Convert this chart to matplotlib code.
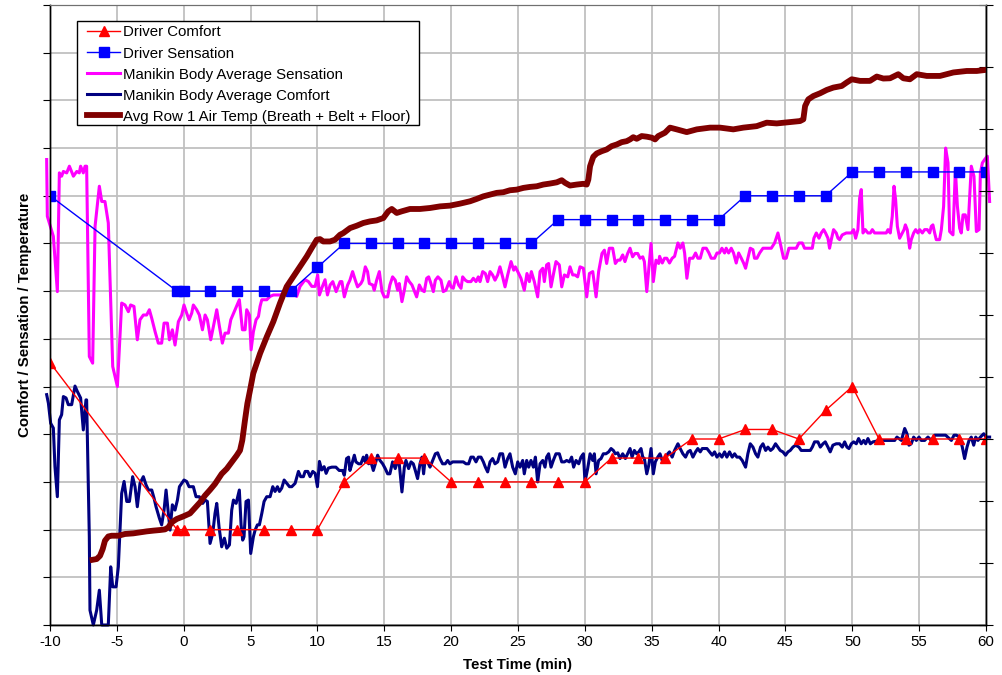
"""Driver / manikin comfort and sensation vs. cabin air temperature during warm-up test."""

import matplotlib
matplotlib.use("Agg")
import matplotlib.pyplot as plt
from matplotlib.patches import Rectangle

plt.rcParams['font.family'] = ['Liberation Sans', 'DejaVu Sans']
plt.rcParams['axes.unicode_minus'] = False

# ------------------------------
# Data (left axis in grid units, right axis in deg F)
# ------------------------------

jury_t = [-10, -0.5, 0, 2, 4, 6, 8, 10, 12, 14, 16, 18, 20, 22, 24, 26, 28, 30,
          32, 34, 36, 38, 40, 42, 44, 46, 48, 50, 52, 54, 56, 58, 60]

driver_comfort = [5.5, 2.0, 2.0, 2.0, 2.0, 2.0, 2.0, 2.0, 3.0, 3.5, 3.5, 3.5,
                  3.0, 3.0, 3.0, 3.0, 3.0, 3.0, 3.5, 3.5, 3.5, 3.9, 3.9, 4.1,
                  4.1, 3.9, 4.5, 5.0, 3.9, 3.9, 3.9, 3.9, 3.9]

driver_sensation = [9.0, 7.0, 7.0, 7.0, 7.0, 7.0, 7.0, 7.5, 8.0, 8.0, 8.0, 8.0,
                    8.0, 8.0, 8.0, 8.0, 8.5, 8.5, 8.5, 8.5, 8.5, 8.5, 8.5, 9.0,
                    9.0, 9.0, 9.0, 9.5, 9.5, 9.5, 9.5, 9.5, 9.5]

sens_t = [-10.25, -10.20, -9.75, -9.45, -9.30, -9.13, -9.00, -8.75, -8.55, -8.25,
          -8.00, -7.81, -7.71, -7.51, -7.38, -7.26, -7.06, -6.81, -6.63, -6.31,
          -6.13, -5.89, -5.64, -5.31, -4.96, -4.64, -4.39, -4.14, -3.97, -3.72,
          -3.47, -3.27, -3.02, -2.77, -2.57, -2.39, -2.14, -1.90, -1.65, -1.47,
          -1.22, -1.07, -0.85, -0.65, -0.40, -0.15, 0.02, 0.22, 0.40, 0.60,
          0.72, 0.97, 1.17, 1.40, 1.60, 1.77, 2.02, 2.27, 2.47, 2.67,
          2.89, 3.09, 3.34, 3.52, 3.84, 4.16, 4.39, 4.59, 4.71, 4.91,
          5.04, 5.21, 5.41, 5.59, 5.71, 5.84, 6.21, 6.46, 6.71, 7.21,
          7.58, 7.83, 8.20, 8.45, 8.70, 9.08, 9.33, 9.58, 9.83, 10.02,
          10.15, 10.32, 10.57, 10.75, 10.95, 11.15, 11.40, 11.70,
          11.83, 12.01, 12.26, 12.43, 12.63, 12.83, 13.00, 13.25, 13.38, 13.58,
          13.75, 13.88, 14.13, 14.25, 14.43, 14.63, 14.83, 15.00, 15.25, 15.42,
          15.62, 15.82, 16.00, 16.12, 16.32, 16.50, 16.67, 16.87, 17.07, 17.27,
          17.42, 17.62, 17.82, 17.99, 18.17, 18.32, 18.49, 18.67, 18.82, 19.01,
          19.24, 19.41, 19.61, 19.86, 19.99, 20.16, 20.36, 20.56, 20.74, 20.86,
          21.06, 21.23, 21.48, 21.66, 21.86, 22.03, 22.16, 22.36, 22.56, 22.73,
          22.91, 23.10, 23.28, 23.48, 23.65, 23.85, 24.03, 24.23, 24.48, 24.68,
          24.80, 24.98, 25.22, 25.47, 25.67, 25.85, 26.00, 26.22, 26.47, 26.65,
          26.85, 26.97, 27.14, 27.29, 27.47, 27.64, 27.84, 28.09, 28.27, 28.47,
          28.72, 28.89, 29.09, 29.26, 29.46, 29.64, 29.89, 30.14, 30.34, 30.59,
          30.84, 31.03, 31.28, 31.46, 31.63, 31.83, 32.08, 32.28, 32.46, 32.63,
          32.83, 33.00, 33.20, 33.38, 33.57, 33.75, 33.95, 34.13, 34.33, 34.45,
          34.63, 34.83, 34.95, 35.12, 35.32, 35.52,
          35.59, 35.79, 35.96, 36.13, 36.33, 36.53, 36.71, 36.96, 37.13, 37.33,
          37.46, 37.63, 37.83, 38.08, 38.28, 38.45, 38.63, 38.83, 39.08, 39.28,
          39.45, 39.70, 39.88, 40.07, 40.25, 40.45, 40.57, 40.75, 40.95, 41.12,
          41.32, 41.50, 41.70, 41.87, 42.02, 42.19, 42.37, 42.57, 42.69, 42.87,
          43.07, 43.32, 43.57, 43.94, 44.19, 44.44, 44.61, 44.86, 45.06, 45.26,
          45.51, 45.81, 46.01, 46.26, 46.43, 46.68, 47.01, 47.13, 47.31, 47.51,
          47.68, 47.86, 48.00, 48.18, 48.30, 48.43, 48.60, 48.80, 48.93, 49.05,
          49.25, 49.55, 49.93, 50.10, 50.25, 50.42, 50.55, 50.67, 50.80, 50.97,
          51.17, 51.35, 51.50, 51.67, 52.04, 52.54, 52.67, 52.84, 52.99, 53.12,
          53.24, 53.37, 53.54, 53.74, 53.87, 53.97, 54.11, 54.29, 54.41, 54.59,
          54.74, 54.91, 55.04, 55.24, 55.41, 55.61, 55.79, 55.91, 56.03, 56.16,
          56.28, 56.53, 56.66, 56.83, 56.98, 57.16, 57.28, 57.53, 57.71, 57.86,
          58.03, 58.15, 58.28, 58.45, 58.65, 58.90, 59.10, 59.28, 59.48, 59.58,
          59.73, 59.90, 60.10, 60.27]

manikin_sensation = [
    9.76, 8.57, 8.15, 6.99, 9.48, 9.41, 9.51, 9.48, 9.62, 9.41,
    9.51, 9.48, 9.62, 9.48, 9.62, 9.62, 5.63, 5.49, 8.36, 9.20,
    8.88, 8.88, 8.43, 5.42, 5.00, 6.75, 6.71, 6.57, 6.71, 6.68,
    5.98, 6.40, 6.50, 6.50, 6.61, 6.43, 6.15, 5.91, 5.91, 6.33,
    6.33, 5.98, 6.19, 5.87, 6.36, 6.50, 6.71, 6.54, 6.40, 6.54,
    6.71, 6.61, 6.50, 6.19, 6.50, 6.40, 5.98, 6.33, 6.61, 6.26,
    5.91, 6.12, 6.12, 6.40, 6.61, 6.82, 6.19, 6.19, 6.61, 6.50,
    5.77, 6.15, 6.40, 6.47, 6.68, 6.82, 6.82, 6.89, 6.92, 6.92,
    6.96, 7.06, 7.03, 6.89, 7.10, 7.24, 7.20, 7.10, 7.10, 7.34,
    6.92, 7.06, 7.24, 6.92, 7.13, 7.20, 6.99, 7.20,
    7.20, 6.88, 7.13, 7.23, 7.41, 7.23, 7.09, 7.16, 7.23, 7.51,
    7.41, 7.16, 7.13, 7.02, 7.23, 7.41, 6.99, 6.88, 6.88, 7.13,
    7.30, 7.23, 7.02, 7.16, 6.78, 7.02, 7.30, 7.20, 7.13, 6.99,
    6.88, 7.13, 7.02, 6.99, 7.27, 7.30, 7.16, 6.99, 7.23, 7.30,
    7.23, 6.99, 7.02, 7.20, 7.09, 7.06, 7.30, 7.13, 7.06, 7.30,
    7.23, 7.20, 7.20, 7.27, 7.20, 7.30, 7.20, 7.41, 7.37, 7.20,
    7.41, 7.34, 7.23, 7.34, 7.51, 7.30, 7.09, 7.34, 7.62, 7.44,
    7.51, 7.41, 7.27, 7.02, 7.37, 7.20, 7.41, 7.20, 6.88, 7.41,
    7.48, 7.20, 7.55, 7.58, 7.09, 7.34, 7.62, 7.55, 7.09, 7.34,
    7.30, 7.51, 7.34, 7.34, 7.30, 7.51, 7.48, 6.88, 7.37, 7.41,
    6.88, 7.41, 7.79, 7.86, 7.58, 7.90, 7.90, 7.58, 7.65, 7.65,
    7.76, 7.62, 7.79, 7.90, 7.72, 7.79, 7.79, 7.69, 7.72, 7.62,
    6.99, 7.62, 8.00, 7.20, 7.65, 7.58,
    7.73, 7.59, 7.69, 7.69, 7.59, 7.69, 7.73, 8.01, 7.90, 8.01,
    7.80, 7.27, 7.69, 7.69, 7.80, 7.69, 7.69, 7.90, 7.90, 7.80,
    7.69, 7.69, 7.80, 7.80, 7.90, 7.80, 7.90, 7.80, 7.90, 7.80,
    7.59, 7.80, 7.69, 7.59, 7.48, 7.69, 7.90, 7.87, 7.69, 7.69,
    7.80, 7.90, 7.90, 7.90, 8.01, 8.22, 8.01, 7.69, 7.69, 7.90,
    7.90, 7.90, 8.01, 8.01, 7.90, 7.90, 7.90, 8.11, 8.22, 8.11,
    8.22, 8.29, 8.22, 8.11, 7.90, 8.08, 8.29, 8.22, 8.11, 8.08,
    8.18, 8.22, 8.22, 8.29, 8.11, 8.29, 8.95, 9.13, 8.22, 8.29,
    8.22, 8.22, 8.29, 8.22, 8.22, 8.22, 8.29, 8.22, 8.57, 9.20,
    8.92, 8.36, 8.11, 8.22, 8.29, 8.39, 8.29, 7.90, 8.08, 8.22,
    8.29, 8.22, 8.29, 8.22, 8.29, 8.29, 8.22, 8.36, 8.39, 8.22,
    8.08, 8.08, 8.29, 8.78, 10.00, 9.69, 8.25, 8.18, 9.55, 8.78,
    8.32, 8.22, 8.60, 8.60, 8.29, 9.62, 9.41, 8.25, 8.29, 9.48,
    9.69, 9.76, 9.83, 8.88]

comf_t = [-10.25, -10.12, -9.95, -9.75, -9.63, -9.45, -9.30, -9.13, -9.00, -8.80,
          -8.63, -8.38, -8.13, -7.96, -7.71, -7.51, -7.31, -7.26, -7.06, -7.01,
          -6.76, -6.51, -6.31, -6.13, -5.89, -5.64, -5.46, -5.31, -5.06, -4.89,
          -4.64, -4.46, -4.26, -4.06, -3.82, -3.64, -3.47, -3.27, -3.02, -2.82,
          -2.64, -2.39, -2.22, -2.07, -1.82, -1.65, -1.47, -1.32, -1.15, -1.02,
          -0.85, -0.65, -0.47, -0.32, -0.15, 0.02, 0.22, 0.40, 0.72, 0.92,
          1.17, 1.42, 1.60, 1.77, 1.97, 2.17, 2.34, 2.47, 2.64, 2.84,
          3.04, 3.22, 3.42, 3.59, 3.72, 3.92, 4.04, 4.16, 4.29, 4.41,
          4.51, 4.66, 4.84, 5.01, 5.21, 5.34, 5.51, 5.66, 5.84, 6.01,
          6.21, 6.46, 6.66, 6.83, 7.01, 7.16, 7.33, 7.51, 7.71, 7.91,
          8.08, 8.33, 8.58, 8.75, 8.95, 9.08, 9.28, 9.45, 9.65, 9.83,
          10.00, 10.15, 10.32, 10.50, 10.65, 10.82,
          11.08, 11.38, 11.63, 11.88, 12.01, 12.18, 12.33, 12.43, 12.58, 12.76,
          12.88, 13.08, 13.25, 13.43, 13.58, 13.68, 13.83, 14.00, 14.18, 14.33,
          14.50, 14.68, 14.88, 15.07, 15.25, 15.42, 15.62, 15.82, 16.00, 16.12,
          16.32, 16.50, 16.62, 16.82, 17.00, 17.17, 17.32, 17.49, 17.67, 17.82,
          17.94, 18.07, 18.24, 18.42, 18.62, 18.82, 18.99, 19.16, 19.36, 19.56,
          19.74, 19.91, 20.11, 20.36, 20.66, 20.91, 21.11, 21.31, 21.48, 21.66,
          21.86, 22.03, 22.23, 22.41, 22.56, 22.73, 22.91, 23.10, 23.28, 23.48,
          23.65, 23.85, 24.03, 24.23, 24.40, 24.60, 24.80, 24.98, 25.15, 25.35,
          25.47, 25.65, 25.80, 25.97, 26.15, 26.30, 26.47, 26.65, 26.85, 27.02,
          27.14, 27.29, 27.47, 27.64, 27.84, 28.09, 28.27, 28.47, 28.64, 28.84,
          29.01, 29.16, 29.34, 29.54, 29.71, 29.89, 30.01, 30.21, 30.39, 30.59,
          30.71, 30.84, 31.03, 31.21, 31.38, 31.58, 31.78, 31.96, 32.13, 32.28,
          32.46, 32.63, 32.83, 33.03, 33.20, 33.38, 33.53, 33.70, 33.87, 34.03,
          34.20, 34.33, 34.45, 34.63, 34.78, 34.95, 35.12, 35.27, 35.45, 35.62,
          35.82, 36.02, 36.20,
          36.33, 36.53, 36.71, 36.96, 37.13, 37.33, 37.53, 37.71, 37.88, 38.08,
          38.28, 38.45, 38.63, 38.78, 38.95, 39.13, 39.33, 39.53, 39.70, 39.88,
          40.07, 40.25, 40.45, 40.62, 40.82, 41.02, 41.20, 41.37, 41.57, 41.77,
          42.02, 42.19, 42.37, 42.57, 42.77, 42.94, 43.14, 43.32, 43.52, 43.69,
          43.89, 44.06, 44.26, 44.44, 44.61, 44.81, 45.01, 45.19, 45.36, 45.56,
          45.76, 46.01, 46.18, 46.56, 46.86, 47.01, 47.18, 47.43, 47.61, 47.81,
          47.98, 48.18, 48.35, 48.55, 48.80, 49.05, 49.25, 49.43, 49.60, 49.75,
          49.93, 50.10, 50.30, 50.47, 50.67, 50.85, 51.00, 51.17, 51.35, 51.55,
          52.04, 52.54, 52.92, 53.17, 53.34, 53.67, 53.92, 54.09, 54.24, 54.41,
          54.59, 54.79, 54.99, 55.16, 55.41, 55.66, 55.91, 56.16, 56.53, 56.98,
          57.41, 57.61, 57.78, 58.03, 58.23, 58.40, 58.58, 58.73, 58.90, 59.08,
          59.23, 59.40, 59.58, 59.83, 60.02, 60.27]

manikin_comfort = [
    4.83, 4.65, 4.23, 4.13, 3.32, 2.69, 4.30, 4.41, 4.79, 4.76,
    4.62, 4.62, 5.01, 4.90, 4.76, 4.09, 4.72, 4.72, 1.85, 0.31,
    0.00, 0.31, 0.73, 0.00, 0.00, 0.00, 1.22, 0.80, 0.80, 1.22,
    2.76, 3.01, 2.59, 2.59, 3.11, 2.90, 2.48, 2.97, 3.11, 2.94,
    2.83, 2.83, 2.66, 2.48, 2.24, 2.10, 2.41, 2.83, 2.34, 1.99,
    2.52, 2.41, 2.62, 2.90, 2.97, 3.04, 3.01, 2.90, 2.90, 2.69,
    2.69, 2.55, 2.62, 2.59, 1.71, 1.92, 2.34, 2.55, 2.06, 1.64,
    1.82, 1.61, 1.68, 2.41, 2.62, 2.55, 2.69, 2.83, 2.10, 1.78,
    1.85, 2.59, 2.62, 1.50, 1.85, 1.99, 2.10, 2.10, 2.34, 2.59,
    2.69, 2.69, 2.90, 2.80, 2.90, 2.80, 2.87, 3.04, 2.97, 2.90,
    2.90, 2.97, 3.22, 3.11, 3.11, 3.22, 3.22, 3.11, 3.22, 3.18,
    2.90, 3.43, 3.25, 3.32, 3.18, 3.29,
    3.31, 3.31, 3.24, 3.24, 3.14, 3.49, 3.52, 3.24, 3.38, 3.56,
    3.42, 3.38, 3.38, 3.52, 3.42, 3.56, 3.38, 3.42, 3.24, 3.38,
    3.56, 3.45, 3.38, 3.28, 3.17, 3.17, 3.42, 3.28, 3.45, 3.38,
    2.79, 3.31, 3.45, 3.28, 3.42, 3.38, 3.24, 3.07, 3.38, 3.52,
    3.17, 3.52, 3.42, 3.31, 3.45, 3.59, 3.61, 3.49, 3.38, 3.38,
    3.45, 3.38, 3.42, 3.42, 3.42, 3.42, 3.38, 3.38, 3.52, 3.52,
    3.42, 3.52, 3.52, 3.42, 3.31, 3.21, 3.42, 3.49, 3.38, 3.42,
    3.59, 3.59, 3.31, 3.49, 3.59, 3.31, 3.17, 3.42, 3.31, 3.45,
    3.17, 3.45, 3.31, 3.45, 3.31, 3.52, 3.00, 3.38, 3.45, 3.31,
    3.52, 3.59, 3.31, 3.45, 3.59, 3.59, 3.42, 3.42, 3.45, 3.42,
    3.52, 3.31, 3.45, 3.38, 3.52, 3.59, 3.00, 3.28, 3.59, 3.45,
    3.59, 3.17, 3.45, 3.49, 3.59, 3.59, 3.63, 3.70, 3.66, 3.59,
    3.61, 3.49, 3.59, 3.49, 3.59, 3.70, 3.52, 3.66, 3.59, 3.63,
    3.70, 3.52, 3.49, 3.17, 3.35, 3.70, 3.17, 3.42, 3.52, 3.59,
    3.42, 3.49, 3.59,
    3.63, 3.52, 3.66, 3.80, 3.70, 3.59, 3.52, 3.63, 3.66, 3.52,
    3.63, 3.70, 3.63, 3.70, 3.70, 3.70, 3.63, 3.56, 3.63, 3.52,
    3.59, 3.52, 3.63, 3.52, 3.63, 3.52, 3.59, 3.52, 3.52, 3.45,
    3.31, 3.59, 3.80, 3.73, 3.59, 3.52, 3.73, 3.80, 3.66, 3.73,
    3.66, 3.70, 3.80, 3.73, 3.66, 3.63, 3.56, 3.63, 3.66, 3.73,
    3.77, 3.73, 3.66, 3.66, 3.66, 3.73, 3.84, 3.84, 3.73, 3.80,
    3.84, 3.73, 3.63, 3.77, 3.80, 3.80, 3.73, 3.84, 3.73, 3.70,
    3.80, 3.84, 3.80, 3.91, 3.80, 3.87, 3.80, 3.91, 3.80, 3.84,
    3.87, 3.87, 3.87, 3.87, 3.94, 3.87, 4.12, 4.01, 3.77, 3.80,
    3.94, 3.87, 3.94, 3.87, 3.87, 3.94, 3.87, 3.98, 3.98, 3.98,
    3.87, 3.98, 3.98, 3.94, 3.73, 3.49, 3.73, 3.87, 3.94, 3.77,
    3.94, 3.87, 3.94, 4.01, 3.94, 3.94]

temp_t = [-6.81, -6.51, -6.26, -6.06, -5.89, -5.64, -5.39, -4.89, -4.39, -3.77,
          -3.27, -2.77, -2.27, -1.77, -1.40, -1.15, -0.90, -0.52, -0.03, 0.47,
          0.84, 1.22, 1.59, 1.97, 2.34, 2.84, 3.22, 3.59, 3.96, 4.21,
          4.38, 4.58, 4.76, 4.96, 5.20, 5.71, 6.21, 6.70, 7.20, 7.70,
          8.20, 8.70, 9.20, 9.57, 9.95, 10.19, 10.44, 10.94, 11.31, 11.69,
          11.94, 12.44, 12.94, 13.43, 13.93, 14.43, 14.93, 15.30, 15.56, 15.93,
          16.30, 16.92, 17.67, 18.42, 19.17, 19.91, 20.66, 21.41, 21.91, 22.41,
          22.91, 23.41, 23.90, 24.40, 24.90, 25.40, 25.90, 26.40, 26.89, 27.39,
          27.90, 28.27, 28.52, 28.89, 29.39, 29.88, 30.14, 30.26, 30.39, 30.63,
          30.89, 31.26, 31.63, 32.01, 32.38, 32.76, 33.13, 33.38, 33.62, 33.88,
          34.25, 34.63, 35.00, 35.25, 35.49, 35.99, 36.37, 36.87, 37.62, 38.37,
          39.36, 40.11, 41.10, 41.85, 42.85, 43.60, 44.35, 45.34, 46.09, 46.34,
          46.47, 46.71, 47.09, 47.59, 48.09, 48.58, 49.21, 49.58, 49.96, 50.58,
          51.32, 51.83, 52.32, 52.82, 53.44, 53.82, 54.31, 54.82, 55.57, 56.56,
          57.06, 57.56, 58.56, 59.31, 60.00]

air_temp = [45.26, 45.32, 45.58, 46.12, 46.80, 47.14, 47.20, 47.20, 47.34, 47.39,
            47.47, 47.55, 47.61, 47.66, 47.71, 47.87, 48.28, 48.55, 48.76, 49.00,
            49.44, 49.89, 50.44, 50.90, 51.38, 52.19, 52.60, 53.13, 53.67, 54.08,
            54.89, 56.50, 57.86, 58.93, 60.28, 61.90, 63.24, 64.46, 65.95, 67.29,
            68.10, 68.91, 69.72, 70.40, 71.07, 71.12, 70.93, 70.93, 71.07, 71.47,
            71.61, 72.01, 72.20, 72.42, 72.55, 72.63, 72.82, 73.36, 73.55, 73.23,
            73.36, 73.55, 73.55, 73.63, 73.76, 73.82, 73.98, 74.17, 74.36, 74.57,
            74.71, 74.85, 74.90, 75.06, 75.11, 75.25, 75.33, 75.38, 75.52, 75.60,
            75.70, 75.87, 75.66, 75.44, 75.52, 75.58, 75.52, 75.92, 77.00, 77.76,
            78.03, 78.21, 78.35, 78.62, 78.75, 78.94, 79.02, 79.16, 79.34, 79.21,
            79.43, 79.38, 79.30, 79.16, 79.43, 79.70, 80.11, 79.97, 79.75, 79.97,
            80.11, 80.11, 79.97, 80.11, 80.23, 80.51, 80.45, 80.56, 80.64, 80.78,
            81.85, 82.39, 82.66, 82.88, 83.15, 83.34, 83.47, 83.75, 84.01, 83.88,
            83.88, 84.23, 84.07, 84.09, 84.42, 84.09, 84.01, 84.42, 84.28, 84.28,
            84.42, 84.56, 84.68, 84.68, 84.77]

x_ticks = list(range(-10, 61, 5))

# ------------------------------
# Figure
# ------------------------------

W, H = 1003, 675
fs = 10.8

fig = plt.figure(figsize=(W / 100, H / 100), dpi=100)
ax = fig.add_axes([50 / W, 50 / H, 936 / W, 620 / H])
ax2 = ax.twinx()

ax.set_xlim(-10, 60)
ax.set_ylim(0, 13)
ax2.set_ylim(40, 90)

ax.set_xticks(x_ticks)
ax.set_yticks(range(0, 14))
ax.set_yticklabels([])
ax2.set_yticks(range(40, 91, 5))
ax2.set_yticklabels([])

ax.grid(True, color='#c0c0c0', linewidth=1.3)
ax.set_axisbelow(True)

h_sens, = ax.plot(sens_t, manikin_sensation, color='#ff00ff', linewidth=2.2,
                  clip_on=False, zorder=2, label='Manikin Body Average Sensation')
h_comf, = ax.plot(comf_t, manikin_comfort, color='#000080', linewidth=2.2,
                  clip_on=False, zorder=3, label='Manikin Body Average Comfort')
h_ds, = ax.plot(jury_t, driver_sensation, color='#0000ff', linewidth=1.0,
                marker='s', markersize=6.5, zorder=4, label='Driver Sensation')
h_dc, = ax.plot(jury_t, driver_comfort, color='#ff0000', linewidth=1.0,
                marker='^', markersize=7, zorder=5, label='Driver Comfort')
h_air, = ax2.plot(temp_t, air_temp, color='#800000', linewidth=4.2,
                  label='Avg Row 1 Air Temp (Breath + Belt + Floor)')

for a in (ax, ax2):
    for side in ('left', 'right', 'bottom'):
        a.spines[side].set_color('black')
        a.spines[side].set_linewidth(1.0)
    a.spines['top'].set_color('#707070')

ax.tick_params(axis='x', direction='out', length=4, labelsize=fs, colors='black')
ax.tick_params(axis='y', direction='out', length=5, left=True, right=False)
ax2.tick_params(axis='y', direction='inout', length=10, right=True)

ax.set_xlabel('Test Time (min)', fontsize=fs, fontweight='bold')
ax.xaxis.set_label_coords(0.5, -0.053)
ax.set_ylabel('Comfort / Sensation / Temperature', fontsize=fs, fontweight='bold')
ax.yaxis.set_label_coords(-0.0195, 0.5)

# legend box: Excel style, wider side padding than top/bottom
fig.patches.append(Rectangle((77 / W, 1 - 125 / H), 342 / W, 104 / H,
                             transform=fig.transFigure, facecolor='white',
                             edgecolor='black', linewidth=1.0, zorder=9))
leg = fig.legend(handles=[h_dc, h_ds, h_sens, h_comf, h_air],
                 loc='upper left', bbox_to_anchor=(87 / W, 1 - 25.5 / H),
                 fontsize=fs, frameon=False, borderpad=0, borderaxespad=0,
                 labelspacing=0.47, handlelength=2.2, handletextpad=0.2)
leg.set_zorder(10)

fig.savefig('out.png', dpi=100)
